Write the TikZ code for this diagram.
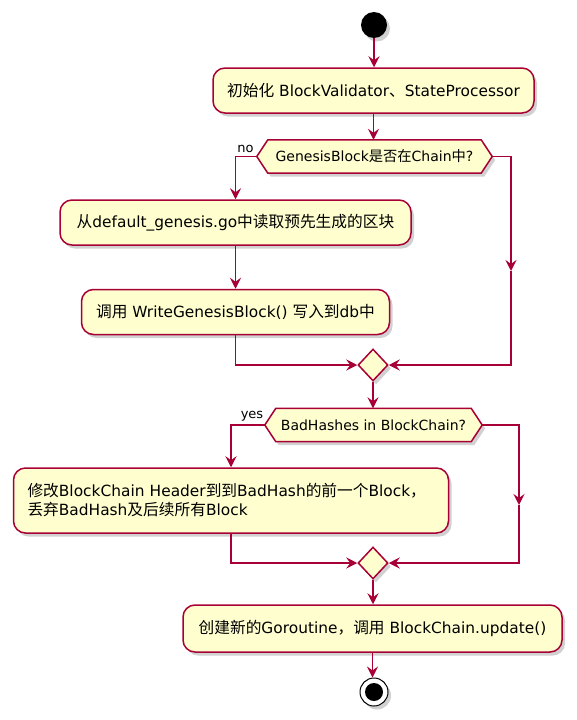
\documentclass[tikz,border=0pt]{standalone}
\usepackage{fontspec}
\setmainfont{DejaVu Sans}
\newfontfamily\cjk[Scale=1.02]{Noto Sans CJK SC}
\usetikzlibrary{arrows.meta,shapes.geometric,shadows,calc,backgrounds}
\definecolor{pfill}{HTML}{FEFECE}
\definecolor{pline}{HTML}{A80036}
\newcommand{\zh}[1]{{\cjk #1}}
\begin{document}
\begin{tikzpicture}[x=1pt,y=-1pt,
  shad/.style={drop shadow={shadow xshift=3pt,shadow yshift=-3.5pt,fill=black,opacity=0.18}},
  act/.style={draw=pline,fill=pfill,line width=1.5pt,rounded corners=12pt,minimum height=45pt,inner sep=0pt,font=\fontsize{15.4}{19}\selectfont,shad},
  dtext/.style={inner sep=0pt,minimum height=33pt,font=\fontsize{14}{17}\selectfont},
  hex/.style={draw=pline,fill=pfill,line width=1.5pt,shad},
  merge/.style={diamond,draw=pline,fill=pfill,line width=1.5pt,minimum width=30pt,minimum height=32pt,inner sep=0pt,shad},
  flow/.style={draw=pline,line width=1.5pt,-{Stealth[length=11pt,width=11pt,inset=4pt]}},
  lab/.style={font=\fontsize{13}{15}\selectfont,inner sep=0pt}
]
\begin{scope}[on background layer]
\fill[white] (0,0) rectangle (576,720);
\end{scope}
\path[use as bounding box] (0,0) rectangle (576,720);

\node[circle,fill=black,minimum size=26pt,inner sep=0pt,shad] (start) at (374,25) {};
\node[act,minimum width=321pt] (a1) at (373.5,90.5) {\zh{初始化} BlockValidator\zh{、}StateProcessor};

\node[dtext,minimum width=213pt] (d1) at (374.5,156.5) {GenesisBlock\zh{是否在}Chain\zh{中}?};
\begin{scope}[on background layer]
\path[hex] (d1.north west) -- (d1.north east) -- ($(d1.east)+(11,0)$) coordinate (d1r)
  -- (d1.south east) -- (d1.south west) -- ($(d1.west)+(-11,0)$) coordinate (d1l) -- cycle;
\end{scope}
\node[lab] (no) at (245.5,149) {no};

\node[act,minimum width=351pt] (a2) at (235.5,222.5) {\zh{从}default\_genesis.go\zh{中读取预先生成的区块}};
\node[act,minimum width=308pt] (a3) at (235.5,312) {\zh{调用} WriteGenesisBlock() \zh{写入到}db\zh{中}};
\node[merge] (m1) at (373,365) {};
\coordinate (r1) at (511,271);

\node[dtext,minimum width=195pt] (d2) at (373.5,425) {BadHashes in BlockChain?};
\begin{scope}[on background layer]
\path[hex] (d2.north west) -- (d2.north east) -- ($(d2.east)+(11,0)$) coordinate (d2r)
  -- (d2.south east) -- (d2.south west) -- ($(d2.west)+(-11,0)$) coordinate (d2l) -- cycle;
\end{scope}
\node[lab] (yes) at (252,416) {yes};

\node[act,minimum height=65pt,text width=407pt,align=left,inner xsep=14pt] (a4) at (231,500.5)
  {\zh{修改}BlockChain Header\zh{到到}BadHash\zh{的前一个}Block\zh{，}\\\zh{丢弃}BadHash\zh{及后续所有}Block};
\node[merge] (m2) at (373,563) {};
\coordinate (r2) at (519,505);

\node[act,minimum width=379pt,minimum height=47pt] (a5) at (372.5,628.5) {\zh{创建新的}Goroutine\zh{，调用} BlockChain.update()};
\node[circle,draw=black,fill=white,line width=1pt,minimum size=28pt,inner sep=0pt,shad] (end) at (374,692) {};
\node[circle,fill=black,minimum size=18pt,inner sep=0pt] (endin) at (end.center) {};

\draw[flow] (start.south) -- (start.south |- a1.north);
\draw[flow] (a1.south) -- (a1.south |- d1.north);
\draw[flow] (d1l) -| (a2.north);
\draw[flow] (d1r) -| (r1);
\draw[flow] (r1) |- (m1.east);
\draw[flow] (a2.south) -- (a3.north);
\draw[flow] (a3.south) |- (m1.west);
\draw[flow] (m1.south) -- (m1.south |- d2.north);
\draw[flow] (d2l) -| (a4.north);
\draw[flow] (d2r) -| (r2);
\draw[flow] (r2) |- (m2.east);
\draw[flow] (a4.south) |- (m2.west);
\draw[flow] (m2.south) -- (m2.south |- a5.north);
\draw[flow] (a5.south) -- (a5.south |- end.north);
\end{tikzpicture}
\end{document}
